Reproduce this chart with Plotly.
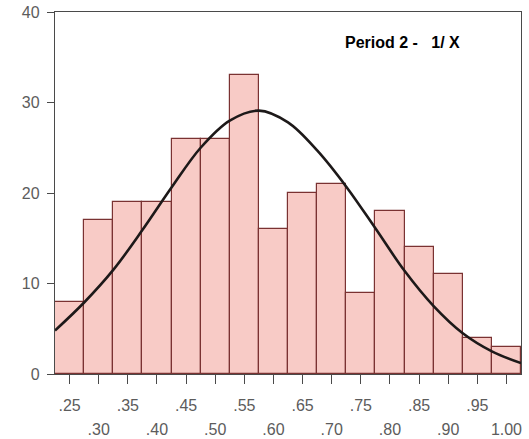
import plotly.graph_objects as go

# Histogram of 1/X for period 2: bin centres (width .05) and counts
bin_centers = [0.25, 0.30, 0.35, 0.40, 0.45, 0.50, 0.55, 0.60,
               0.65, 0.70, 0.75, 0.80, 0.85, 0.90, 0.95, 1.00]
counts = [8, 17, 19, 19, 26, 26, 33, 16, 20, 21, 9, 18, 14, 11, 4, 3]

# Fitted normal curve, sampled at the bin edges
curve_x = [0.225, 0.275, 0.325, 0.375, 0.425, 0.475, 0.525, 0.575, 0.625,
           0.675, 0.725, 0.775, 0.825, 0.875, 0.925, 0.975, 1.025]
curve_y = [4.8, 7.9, 11.5, 15.9, 20.6, 25.0, 28.0, 29.1, 27.8,
           24.7, 20.7, 16.1, 11.4, 7.5, 4.5, 2.5, 1.2]

# Tick labels staggered over two rows
row1_vals = [0.25, 0.35, 0.45, 0.55, 0.65, 0.75, 0.85, 0.95]
row1_text = [".25", ".35", ".45", ".55", ".65", ".75", ".85", ".95"]
row2_vals = [0.30, 0.40, 0.50, 0.60, 0.70, 0.80, 0.90, 1.00]
row2_text = [".30", ".40", ".50", ".60", ".70", ".80", ".90", "1.00"]
y_ticks = [0, 10, 20, 30, 40]

axis_grey = "#4a4a4a"
label_grey = "#5c5c5c"
font_family = "Liberation Sans, Arial, sans-serif"

fig = go.Figure()
fig.add_bar(
    x=bin_centers, y=counts, width=0.05,
    marker=dict(color="#f8cbc6", line=dict(color="#7a3232", width=1.2)),
    hoverinfo="skip",
)
fig.add_scatter(
    x=curve_x, y=curve_y, mode="lines",
    line=dict(color="#1d1919", width=2.6, shape="spline", smoothing=1.0),
    hoverinfo="skip",
)
# carrier trace so the second label row (xaxis2) is drawn
fig.add_scatter(
    x=row2_vals, y=[None] * len(row2_vals), xaxis="x2", mode="markers",
    marker=dict(opacity=0), hoverinfo="skip",
)

common_x = dict(
    range=[0.225, 1.025], showgrid=False, zeroline=False, automargin=False,
    ticks="outside", ticklen=9, tickwidth=1.2, tickcolor=axis_grey,
    tickfont=dict(size=16, color=label_grey, family=font_family),
)

fig.update_layout(
    width=529, height=439,
    margin=dict(l=55, r=8, t=12, b=65),
    paper_bgcolor="white", plot_bgcolor="white",
    showlegend=False, bargap=0,
    xaxis=dict(
        **common_x,
        tickvals=row1_vals, ticktext=row1_text,
        showline=True, linecolor=axis_grey, linewidth=1.3, mirror=True,
        ticklabelstandoff=8,
    ),
    xaxis2=dict(
        **common_x,
        overlaying="x", anchor="y", side="bottom",
        tickvals=row2_vals, ticktext=row2_text,
        showline=False, ticklabelstandoff=32,
    ),
    yaxis=dict(
        range=[0, 40], tickvals=y_ticks, ticktext=[str(v) for v in y_ticks],
        showgrid=False, zeroline=False, automargin=False,
        showline=True, linecolor=axis_grey, linewidth=1.3, mirror=True,
        ticks="outside", ticklen=7, tickwidth=1.2, tickcolor=axis_grey,
        tickfont=dict(size=16, color=label_grey, family=font_family),
        ticklabelstandoff=4,
    ),
    annotations=[dict(
        text="<b>Period 2 -   1/ X</b>", x=0.745, y=0.916,
        xref="paper", yref="paper", xanchor="center", yanchor="middle",
        showarrow=False, font=dict(size=16, color="black", family=font_family),
    )],
)

fig.write_html("out.html")
